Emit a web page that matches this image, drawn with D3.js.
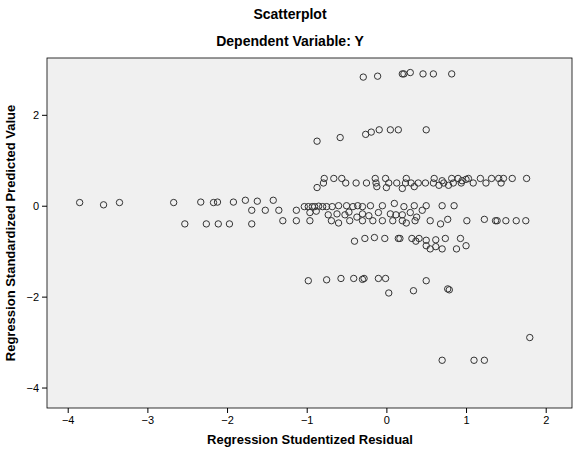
<!DOCTYPE html>
<html><head><meta charset="utf-8">
<script src="https://cdn.jsdelivr.net/npm/d3@7"></script>
<style>body{margin:0;background:#fff}text{font-family:Arial,"Liberation Sans",sans-serif}</style>
</head><body><svg id="c" width="580" height="450"></svg>
<script>
// studentized residuals (x) and standardized predicted values (y)
const resid = [
  -0.29,-0.11,0.2,0.22,0.3,0.46,0.59,0.82,
  -0.87,-0.58,-0.26,-0.19,-0.09,0.05,0.15,0.5,
  -0.78,-0.66,-0.56,-0.14,-0.01,0.25,0.6,0.82,0.9,1.03,1.18,1.32,1.41,1.47,1.58,1.76,0.7,0.95,1.0,
  -0.79,-0.51,-0.38,-0.25,-0.13,0.03,0.13,0.24,0.31,0.4,0.49,0.59,0.72,0.84,0.94,1.09,1.25,1.44,0.35,0.66,0.78,
  -0.87,-0.12,0.0,0.2,
  -3.85,-3.55,-3.35,-2.67,-2.33,-2.17,-2.12,-1.92,-1.77,-1.62,-1.42,
  -1.03,-0.98,-0.93,-0.9,-0.85,-0.8,-0.75,-0.68,-0.6,-0.5,-0.42,-0.36,-0.3,-0.2,-0.05,0.1,0.22,0.35,0.5,0.7,0.85,
  -1.69,-1.52,-1.35,-1.13,-0.96,-0.88,-0.73,-0.62,-0.52,-0.47,-0.37,-0.3,-0.22,-0.1,0.05,0.12,0.2,0.3,0.38,0.45,
  -2.53,-2.26,-2.11,-1.97,-1.69,-1.13,-1.3,-0.96,-0.69,-0.46,-0.3,-0.17,-0.05,0.08,0.2,0.36,0.55,0.77,1.01,1.23,1.37,1.39,1.5,1.63,1.75,-0.6,0.25,0.68,
  -0.4,-0.27,-0.15,-0.02,0.17,0.32,0.37,0.41,0.5,0.62,0.74,0.93,0.15,0.5,0.55,0.62,0.7,0.88,1.0,
  -0.98,-0.75,-0.57,-0.41,-0.3,-0.28,-0.1,-0.01,0.03,0.34,0.77,0.79,0.5,
  0.7,1.1,1.23,1.8
]
const pred = [
  2.83,2.85,2.9,2.9,2.93,2.9,2.9,2.9,
  1.42,1.5,1.57,1.62,1.67,1.67,1.67,1.67,
  0.6,0.6,0.6,0.6,0.6,0.6,0.6,0.6,0.6,0.6,0.6,0.6,0.6,0.6,0.6,0.6,0.55,0.55,0.58,
  0.5,0.5,0.5,0.5,0.5,0.5,0.5,0.5,0.5,0.5,0.5,0.5,0.5,0.5,0.5,0.5,0.5,0.5,0.42,0.45,0.45,
  0.4,0.42,0.4,0.38,
  0.07,0.02,0.07,0.07,0.08,0.07,0.08,0.08,0.12,0.1,0.12,
  -0.02,-0.02,-0.02,-0.02,-0.01,-0.02,-0.02,-0.02,0.0,0.0,-0.02,0.0,-0.02,0.0,0.0,0.05,-0.02,0.0,0.0,0.0,0.0,
  -0.1,-0.1,-0.1,-0.1,-0.15,-0.12,-0.2,-0.18,-0.2,-0.14,-0.25,-0.18,-0.22,-0.15,-0.18,-0.2,-0.2,-0.15,-0.25,-0.1,
  -0.4,-0.4,-0.4,-0.4,-0.4,-0.33,-0.33,-0.33,-0.33,-0.33,-0.33,-0.33,-0.33,-0.33,-0.33,-0.33,-0.33,-0.3,-0.33,-0.3,-0.33,-0.33,-0.33,-0.33,-0.33,-0.38,-0.38,-0.4,
  -0.78,-0.72,-0.7,-0.72,-0.72,-0.72,-0.78,-0.72,-0.76,-0.75,-0.72,-0.72,-0.72,-0.88,-0.95,-0.9,-0.95,-0.95,-0.88,
  -1.65,-1.63,-1.6,-1.6,-1.62,-1.6,-1.6,-1.6,-1.92,-1.87,-1.83,-1.85,-1.65,
  -3.4,-3.4,-3.4,-2.9
]
const xTicks = [-4,-3,-2,-1,0,1,2]
const yTicks = [2,0,-2,-4]

const svg = d3.select('#c')
const m = {l: 47, r: 572, t: 58, b: 408}
svg.append('rect').attr('width', 580).attr('height', 450).attr('fill', '#fff')
svg.append('rect').attr('x', m.l).attr('y', m.t).attr('width', m.r - m.l).attr('height', m.b - m.t)
  .attr('fill', '#f0f0f0').attr('stroke', '#000').attr('stroke-width', 0.8)

const x = d3.scaleLinear().domain([-4.26, 2.33]).range([m.l, m.r])
const y = d3.scaleLinear().domain([-4.45, 3.25]).range([m.b, m.t])

const gx = svg.append('g').attr('transform', `translate(0,${m.b})`)
  .call(d3.axisBottom(x).tickValues(xTicks).tickFormat(d3.format('d')).tickSize(5).tickSizeOuter(0))
const gy = svg.append('g').attr('transform', `translate(${m.l},0)`)
  .call(d3.axisLeft(y).tickValues(yTicks).tickFormat(d3.format('d')).tickSize(5).tickSizeOuter(0))
;[gx, gy].forEach(g => {
  g.select('.domain').remove()
  g.selectAll('text').attr('font-size', 11).attr('fill', '#000')
})

svg.append('g').selectAll('circle').data(resid).join('circle')
  .attr('cx', d => x(d)).attr('cy', (d, i) => y(pred[i])).attr('r', 3.2)
  .attr('fill', 'none').attr('stroke', '#333').attr('stroke-width', 1)

svg.append('text').attr('x', 290).attr('y', 19).attr('text-anchor', 'middle')
  .attr('font-size', 14).attr('font-weight', 'bold').text('Scatterplot')
svg.append('text').attr('x', 290).attr('y', 46).attr('text-anchor', 'middle')
  .attr('font-size', 14).attr('font-weight', 'bold').text('Dependent Variable: Y')
svg.append('text').attr('x', 310).attr('y', 444).attr('text-anchor', 'middle')
  .attr('font-size', 13).attr('font-weight', 'bold').text('Regression Studentized Residual')
svg.append('text').attr('transform', 'translate(15,233) rotate(-90)').attr('text-anchor', 'middle')
  .attr('font-size', 13).attr('font-weight', 'bold').text('Regression Standardized Predicted Value')
</script></body></html>
